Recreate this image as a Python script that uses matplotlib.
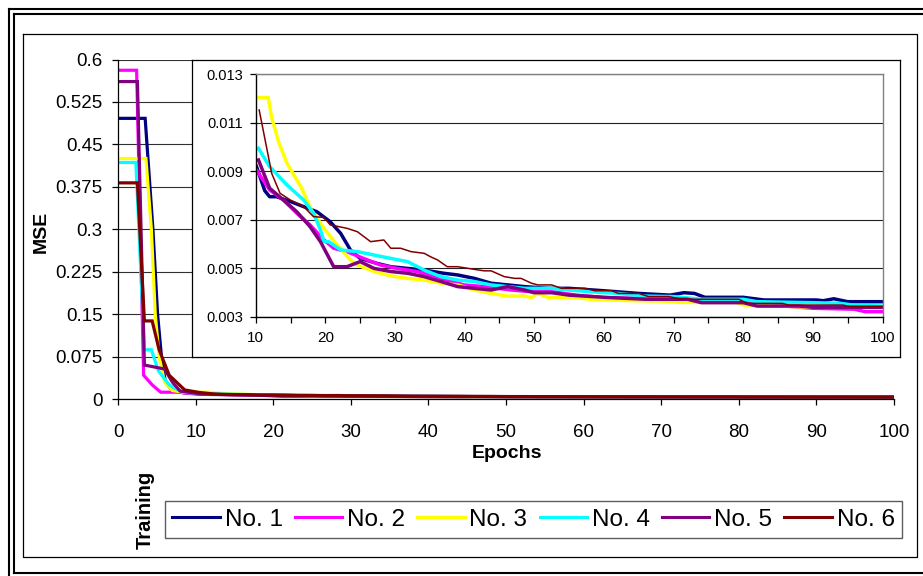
import matplotlib
matplotlib.use('Agg')
import matplotlib.pyplot as plt
from matplotlib.lines import Line2D

plt.rcParams['font.family'] = ['Liberation Sans', 'DejaVu Sans']

W, H = 923, 576

names = ['No. 1', 'No. 2', 'No. 3', 'No. 4', 'No. 5', 'No. 6']
colors = ['#000080', '#FF00FF', '#FFFF00', '#00FFFF', '#800080', '#800000']

# values: (epoch, MSE) knots per network
ep1 = [0.3, 3.5, 4.5, 5.1, 5.6, 6.1, 7.0, 8.5,
       10.1, 11.3, 12, 13, 15, 16.9, 18.8, 20.7, 22.2, 23.6, 25, 27.5, 29.4, 31.8, 34.2, 37, 39, 41.4, 43.8, 48.6, 52,
       55, 60, 65, 69.5, 71.5, 73, 74.5, 80, 83, 90.5, 91.5, 93, 95, 100]
mse1 = [0.496, 0.496, 0.30, 0.15, 0.075, 0.03, 0.015, 0.011,
        0.0092, 0.0082, 0.00795, 0.00795, 0.00775, 0.00754, 0.00733, 0.00692, 0.00644, 0.00576, 0.00541, 0.0052,
        0.00507, 0.005, 0.00493, 0.0048, 0.00473, 0.00459, 0.00439, 0.00425, 0.00418,
        0.00418, 0.00408, 0.00397, 0.0039, 0.004, 0.00397, 0.00381, 0.00381, 0.0037, 0.0037, 0.00367, 0.00375,
        0.00363, 0.00363]

ep2 = [0.3, 2.4, 3.3, 4.4, 5.5, 7.8, 9,
       10.1, 12, 14, 15.9, 17.8, 19.8, 21.2, 23.1, 25.5, 27.9, 30.3, 33.2, 36.6, 39.9, 42.8, 46.7, 49.6, 52.5,
       56, 60, 70, 80, 86, 90, 96, 97.5, 100]
mse2 = [0.581, 0.581, 0.042, 0.025, 0.012, 0.012, 0.010,
        0.00905, 0.00823, 0.00781, 0.00727, 0.00679, 0.00617, 0.00583, 0.00569, 0.00541, 0.00514, 0.005, 0.00487,
        0.00459, 0.00432, 0.00425, 0.00411, 0.00404, 0.00404,
        0.0039, 0.0038, 0.00372, 0.0036, 0.00345, 0.00336, 0.00332, 0.00322, 0.00322]

ep3 = [0.3, 3.6, 4.3, 4.8, 5.3, 6.0, 7.0, 8.5,
       10.4, 11.8, 12.3, 13.3, 14.5, 16.6, 18, 19.8, 21.7, 23.6, 24.6, 27, 29.4, 31.8, 34.2, 36.6, 39, 41.4, 43.8,
       46.2, 48.6, 49.6, 50.5, 52,
       56, 58, 63, 69, 71, 79, 80, 90, 100]
mse3 = [0.425, 0.425, 0.30, 0.15, 0.075, 0.03, 0.015, 0.012,
        0.01203, 0.01203, 0.0112, 0.0102, 0.00932, 0.0083, 0.0074, 0.00665, 0.00596, 0.00535, 0.00514, 0.00487,
        0.00469, 0.00459, 0.00452, 0.00439, 0.00432, 0.00411, 0.00397, 0.00386, 0.00386, 0.0038, 0.00397, 0.0038,
        0.0038, 0.00373, 0.00368, 0.00365, 0.0036, 0.0036, 0.0035, 0.0034, 0.0034]

ep4 = [0.3, 2.3, 3.4, 4.3, 5.2, 6.6, 8.3,
       10.4, 12, 14.5, 16.9, 18.3, 19.3, 19.8, 20.5, 22.2, 24.6, 27, 29.4, 31.8, 34.2, 36.6, 39, 41.4, 43.8, 48.6,
       52.5,
       55, 58, 62, 66, 70, 74, 80, 82, 90, 94, 96, 100]
mse4 = [0.418, 0.418, 0.087, 0.087, 0.05, 0.025, 0.012,
        0.00994, 0.00919, 0.00843, 0.00781, 0.00727, 0.00658, 0.0061, 0.0061, 0.00576, 0.00569, 0.00555, 0.00541,
        0.00528, 0.00493, 0.00466, 0.00452, 0.00446, 0.00432, 0.00418, 0.00418,
        0.00411, 0.00404, 0.00397, 0.00386, 0.00384, 0.00373, 0.00373, 0.00363, 0.00359, 0.00356, 0.00348, 0.00345]

ep5 = [0.3, 2.5, 3.4, 6.0, 7.0, 8.0,
       10.4, 12, 14, 15.9, 17.8, 19.3, 21.2, 23.1, 25, 27, 29.4, 31.8, 34.2, 36.6, 39, 41.4, 43.8, 46.2, 48.6, 50,
       52.5,
       55, 60, 66, 72, 74, 80, 82, 88, 90, 100]
mse5 = [0.561, 0.561, 0.06, 0.053, 0.03, 0.014,
        0.00946, 0.0083, 0.00781, 0.00733, 0.00672, 0.0061, 0.00507, 0.00507, 0.00528, 0.005, 0.00487, 0.0048,
        0.00466, 0.00446, 0.00425, 0.00418, 0.00411, 0.00425, 0.00411, 0.004, 0.004,
        0.0039, 0.00381, 0.00373, 0.00373, 0.00359, 0.00359, 0.00345, 0.00345, 0.0034, 0.0034]

ep6 = [0.3, 2.5, 3.4, 4.4, 5.3, 6.6, 8.6,
       10.5, 12.3, 13.5, 15, 16.9, 18.3, 19.8, 20.7, 23.1, 24.6, 26.5, 28.4, 29.4, 30.8, 32.3, 34.2, 35.1, 36.1,
       37.5, 39, 41.4, 42.8, 43.8, 45.7, 47.2, 48.1, 49.6, 50.5, 52.5,
       53.9, 57.3, 58.7, 61.1, 62.1, 65, 66.4, 69.3, 71.2, 79.4, 80.5, 85.6, 86.6, 94.3, 95.3, 100]
mse6 = [0.382, 0.382, 0.138, 0.138, 0.087, 0.042, 0.016,
        0.01152, 0.00891, 0.00809, 0.00781, 0.00754, 0.00713, 0.0071, 0.00679, 0.00665, 0.00651, 0.0061, 0.00617,
        0.00583, 0.00583, 0.00569, 0.00562, 0.00548, 0.00535, 0.00507, 0.00507, 0.00496, 0.0049, 0.0049, 0.00466,
        0.00459, 0.00459, 0.00439, 0.00432, 0.00432,
        0.00418, 0.00418, 0.00408, 0.00408, 0.00397, 0.00397, 0.00384, 0.00384, 0.00373, 0.00373, 0.00356, 0.00356,
        0.00349, 0.00349, 0.00343, 0.00343]

epochs = [ep1, ep2, ep3, ep4, ep5, ep6]
mses = [mse1, mse2, mse3, mse4, mse5, mse6]

main_xticks = [0, 10, 20, 30, 40, 50, 60, 70, 80, 90, 100]
main_yticks = [0, 0.075, 0.15, 0.225, 0.3, 0.375, 0.45, 0.525, 0.6]
main_ylabels = ['0', '0.075', '0.15', '0.225', '0.3', '0.375', '0.45', '0.525', '0.6']
inset_xticks = [10, 20, 30, 40, 50, 60, 70, 80, 90, 100]
inset_xminor = [15, 25, 35, 45, 55, 65, 75, 85, 95]
inset_yticks = [0.003, 0.005, 0.007, 0.009, 0.011, 0.013]
inset_ylabels = ['0.003', '0.005', '0.007', '0.009', '0.011', '0.013']


def px(x0, y0, x1, y1):
    return [x0 / W, 1 - y1 / H, (x1 - x0) / W, (y1 - y0) / H]


fig = plt.figure(figsize=(W / 100, H / 100), dpi=100)

# frames
def fline(xs, ys, lw, color='black'):
    fig.add_artist(Line2D([x / W for x in xs], [1 - y / H for y in ys],
                          transform=fig.transFigure, color=color, lw=lw))

fline([8.5, 8.5], [8.5, 576], 1.5)
fline([8.5, 923], [8.5, 8.5], 1.5)
fline([14, 14], [14, 573], 1.5)
fline([14, 923], [14, 14], 1.5)
fline([14, 923], [573, 573], 1.5)
fline([23, 917, 917, 23, 23], [33.5, 33.5, 557, 557, 33.5], 0.9)

# main axes
ax = fig.add_axes(px(118, 59.5, 894, 399))
for e, m, c in zip(epochs, mses, colors):
    ax.plot(e, m, color=c, lw=2.3, solid_joinstyle='miter')
ax.set_xlim(0, 100)
ax.set_ylim(0, 0.6)
ax.set_xticks(main_xticks)
ax.set_yticks(main_yticks)
ax.set_yticklabels(main_ylabels)
ax.tick_params(axis='both', direction='out', length=4, width=0.9, labelsize=13.5)
ax.tick_params(axis='y', pad=7)
ax.tick_params(axis='x', pad=14)
ax.grid(axis='y', color='#303030', lw=0.8)
ax.set_axisbelow(True)
for s in ['top', 'right']:
    ax.spines[s].set_visible(False)
for s in ['left', 'bottom']:
    ax.spines[s].set_linewidth(0.9)

# inset box
box = fig.add_axes(px(192, 59.5, 900, 357))
box.set_xticks([])
box.set_yticks([])
for s in box.spines.values():
    s.set_linewidth(0.9)

# inset axes: zoom on epochs 10-100
ins = fig.add_axes(px(255.7, 74, 882.5, 317))
for i, (e, m, c) in enumerate(zip(epochs, mses, colors)):
    keep = [k for k, x in enumerate(e) if x >= 10]
    ins.plot([e[k] for k in keep], [m[k] for k in keep], color=c, lw=1.1 if i == 5 else 2.5)
ins.set_xlim(10, 100)
ins.set_ylim(0.003, 0.013)
ins.set_xticks(inset_xticks)
ins.set_xticks(inset_xminor, minor=True)
ins.set_yticks(inset_yticks)
ins.set_yticklabels(inset_ylabels)
ins.tick_params(axis='both', which='both', direction='out', length=4, width=0.9)
ins.tick_params(axis='y', labelsize=10.5, pad=5)
ins.tick_params(axis='x', labelsize=11, pad=6)
ins.grid(axis='y', color='#202020', lw=0.8)
ins.set_axisbelow(True)
ins.spines['top'].set_color('#808080')
ins.spines['right'].set_color('#808080')
for s in ins.spines.values():
    s.set_linewidth(1.0)

# labels
fig.text(41 / W, 1 - 232 / H, 'MSE', rotation=90, fontweight='bold', fontsize=14,
         ha='center', va='center')
fig.text(507 / W, 1 - 453 / H, 'Epochs', fontweight='bold', fontsize=14,
         ha='center', va='center')
fig.text(145 / W, 1 - 510 / H, 'Training', rotation=90, fontweight='bold', fontsize=14.5,
         ha='center', va='center')

handles = [Line2D([], [], color=c, lw=2.2) for c in colors]
leg = fig.legend(handles, names, loc='center', bbox_to_anchor=(533.5 / W, 1 - 519.5 / H),
                 ncol=6, fontsize=17.5, frameon=True, fancybox=False, edgecolor='#333333',
                 handlelength=1.95, handletextpad=0.2, columnspacing=0.5, borderpad=0.3,
                 borderaxespad=0)
leg.get_frame().set_linewidth(1.0)

fig.savefig('out.png', dpi=100)
